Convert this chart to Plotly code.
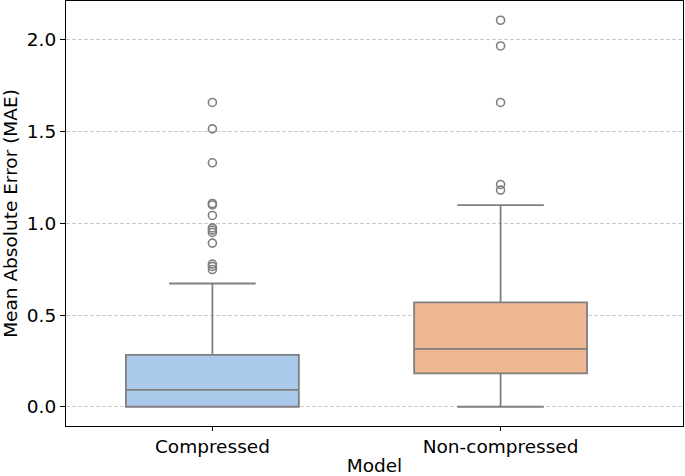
import plotly.graph_objects as go

categories = ["Compressed", "Non-compressed"]
q1_vals = [0.0, 0.182]
median_vals = [0.092, 0.316]
q3_vals = [0.283, 0.569]
lower_whisker = [0.0, 0.0]
upper_whisker = [0.672, 1.099]
outliers_compressed = [1.659, 1.515, 1.330, 1.108, 1.100, 1.043, 0.975, 0.963,
                       0.950, 0.892, 0.778, 0.765, 0.748]
outliers_noncompressed = [2.107, 1.967, 1.659, 1.212, 1.181]
y_ticks = [0.0, 0.5, 1.0, 1.5, 2.0]

fills = ["#abc9ea", "#efb792"]
line_col = "#7f7f7f"
outliers = [outliers_compressed, outliers_noncompressed]

fig = go.Figure()
for i, cat in enumerate(categories):
    fig.add_trace(go.Box(
        x=[i], q1=[q1_vals[i]], median=[median_vals[i]], q3=[q3_vals[i]],
        lowerfence=[lower_whisker[i]], upperfence=[upper_whisker[i]],
        width=0.6, whiskerwidth=0.5, fillcolor=fills[i],
        line=dict(color=line_col, width=1.8), boxpoints=False,
        name=cat, showlegend=False, hoverinfo="skip"))
    fig.add_trace(go.Scatter(
        x=[i] * len(outliers[i]), y=outliers[i], mode="markers",
        marker=dict(symbol="circle-open", size=8, color=line_col,
                    line=dict(width=1.6, color=line_col)),
        showlegend=False, hoverinfo="skip"))

font = dict(family="DejaVu Sans", size=18.5, color="black")
fig.update_layout(
    width=685, height=476,
    margin=dict(l=66, r=2, t=1, b=50, autoexpand=False),
    paper_bgcolor="white", plot_bgcolor="white",
    font=font,
    xaxis=dict(range=[-0.508, 1.633], tickvals=[0, 1], ticktext=categories,
               showgrid=False, zeroline=False, showline=True, linecolor="black",
               linewidth=1.2, mirror=True, ticks="outside", ticklen=4,
               tickcolor="black", tickfont=font, automargin=False,
               title=dict(text="Model", font=font, standoff=4)),
    yaxis=dict(range=[-0.105, 2.212], tickvals=y_ticks, tickformat=".1f",
               showgrid=True, gridcolor="#cccccc", griddash="4px,2px", gridwidth=1,
               zeroline=False, showline=True, linecolor="black", linewidth=1.2,
               mirror=True, ticks="outside", ticklen=5, tickcolor="black",
               tickfont=font, automargin=False,
               title=dict(text="Mean Absolute Error (MAE)", font=font, standoff=8)),
)
fig.write_html("out.html", config={"displayModeBar": False},
               post_script="document.body.style.margin='0';document.body.style.overflow='hidden';")
